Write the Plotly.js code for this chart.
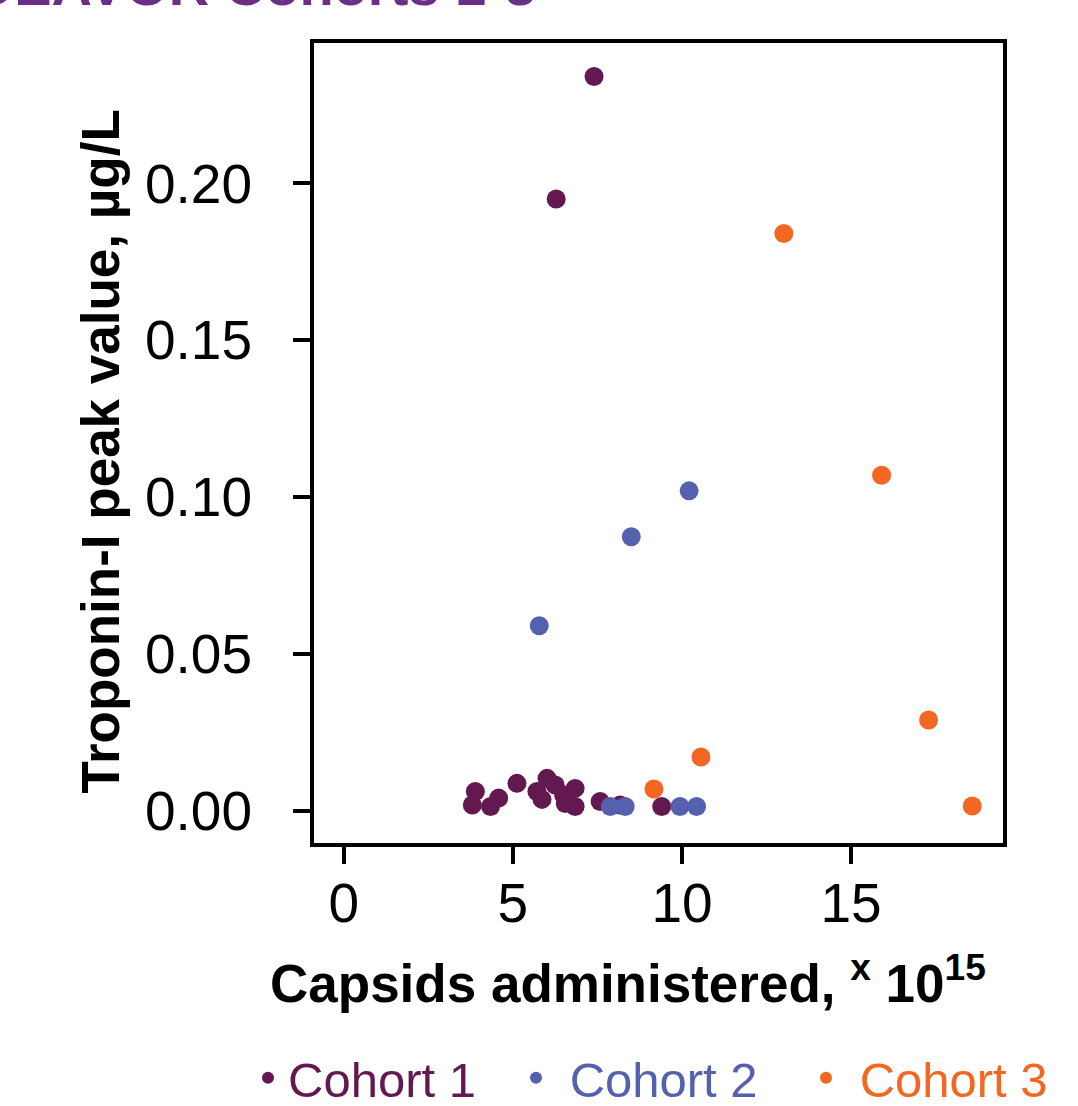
<!DOCTYPE html>
<html>
<head>
<meta charset="utf-8">
<script src="https://cdn.plot.ly/plotly-3.0.1.min.js"></script>
<style>
  html, body { margin: 0; padding: 0; background: #ffffff; }
  #chart { width: 1078px; height: 1106px; }
</style>
</head>
<body>
<div id="chart"></div>
<script>
// Capsids administered (x 10^15) and Troponin-I peak value (µg/L)
var cohort1X = [7.40, 6.28, 3.89, 3.80, 4.58, 4.34, 5.12, 6.01, 5.71, 5.86, 6.25, 6.84, 6.50, 6.55, 6.84, 7.58, 8.17, 9.40];
var cohort1Y = [0.234, 0.195, 0.0062, 0.0019, 0.0041, 0.0014, 0.0088, 0.0104, 0.0062, 0.0037, 0.0083, 0.0072, 0.0051, 0.0024, 0.0014, 0.0030, 0.0019, 0.0014];

var cohort2X = [10.21, 8.50, 5.78, 7.88, 8.32, 9.94, 10.43];
var cohort2Y = [0.102, 0.0874, 0.059, 0.0014, 0.0014, 0.0014, 0.0014];

var cohort3X = [13.01, 15.90, 17.29, 18.58, 10.56, 9.17];
var cohort3Y = [0.184, 0.107, 0.029, 0.0016, 0.0172, 0.0070];

var seriesNames = ["Cohort 1", "Cohort 2", "Cohort 3"];
var xTickVals = [0, 5, 10, 15];
var xTickText = ["0", "5", "10", "15"];
var yTickVals = [0, 0.05, 0.10, 0.15, 0.20];
var yTickText = ["0.00", "0.05", "0.10", "0.15", "0.20"];
var titleText = "ENDEAVOR Cohorts 1-3";
var xTitleText = "Capsids administered, <sup>x</sup> 10<sup>15</sup>";
var yTitleText = "Troponin-I peak value, µg/L";

var colors = ["#63184f", "#5561af", "#f26722"];
var legendIds = ["legend", "legend2", "legend3"];
var namePad = ["", "&nbsp;", "&nbsp;"];
var FONT = "Liberation Sans, Arial, Helvetica, sans-serif";

function mk(x, y, i) {
  return {
    type: "scatter",
    mode: "markers",
    x: x,
    y: y,
    name: namePad[i] + '<span style="color:' + colors[i] + '">' + seriesNames[i] + '</span>',
    legend: legendIds[i],
    marker: { color: colors[i], size: 19, line: { width: 0 } },
    cliponaxis: false,
    hoverinfo: "x+y"
  };
}

var data = [
  mk(cohort1X, cohort1Y, 0),
  mk(cohort2X, cohort2Y, 1),
  mk(cohort3X, cohort3Y, 2)
];

function leg(px) {
  return {
    orientation: "h",
    xref: "container",
    yref: "container",
    x: px / 1078,
    xanchor: "left",
    y: 1 - 1078 / 1106,
    yanchor: "middle",
    font: { family: FONT, size: 49 },
    itemsizing: "constant",
    bgcolor: "rgba(0,0,0,0)"
  };
}

var layout = {
  width: 1078,
  height: 1106,
  paper_bgcolor: "#ffffff",
  plot_bgcolor: "#ffffff",
  margin: { l: 314, r: 75, t: 43, b: 263, pad: 0, autoexpand: false },
  font: { family: FONT, color: "#000000", size: 55 },
  showlegend: true,
  legend: leg(290 - 42),
  legend2: leg(558 - 42),
  legend3: leg(848 - 42),
  xaxis: {
    range: [-0.88, 19.49],
    automargin: false,
    tickmode: "array",
    tickvals: xTickVals,
    ticktext: xTickText,
    ticks: "outside",
    ticklen: 17,
    tickwidth: 3.5,
    tickcolor: "#000000",
    showline: true,
    linewidth: 4,
    linecolor: "#000000",
    mirror: true,
    showgrid: false,
    zeroline: false,
    tickfont: { family: FONT, size: 55, color: "#000000" },
    ticklabelstandoff: -8
  },
  yaxis: {
    range: [-0.0102, 0.2447],
    automargin: false,
    tickmode: "array",
    tickvals: yTickVals,
    ticktext: yTickText,
    ticks: "outside",
    ticklen: 17,
    tickwidth: 3.5,
    tickcolor: "#000000",
    showline: true,
    linewidth: 4,
    linecolor: "#000000",
    mirror: true,
    showgrid: false,
    zeroline: false,
    tickfont: { family: FONT, size: 55, color: "#000000" },
    ticklabelstandoff: 30
  },
  annotations: [
    {
      xref: "paper", yref: "paper",
      x: -0.61, xanchor: "left",
      y: 1.030, yanchor: "bottom",
      text: "<b>" + titleText + "</b>",
      showarrow: false,
      font: { family: FONT, size: 56, color: "#6b2f87" }
    },
    {
      xref: "paper", yref: "paper",
      x: 0.456, xanchor: "center",
      y: -0.171, yanchor: "middle",
      text: "<b>" + xTitleText + "</b>",
      showarrow: false,
      font: { family: FONT, size: 53, color: "#000000" }
    },
    {
      xref: "paper", yref: "paper",
      x: -0.3096, xanchor: "center",
      y: 0.489, yanchor: "middle",
      textangle: -90,
      text: "<b>" + yTitleText + "</b>",
      showarrow: false,
      font: { family: FONT, size: 53, color: "#000000" }
    }
  ]
};

Plotly.newPlot("chart", data, layout, { displayModeBar: false, responsive: false });
</script>
</body>
</html>
